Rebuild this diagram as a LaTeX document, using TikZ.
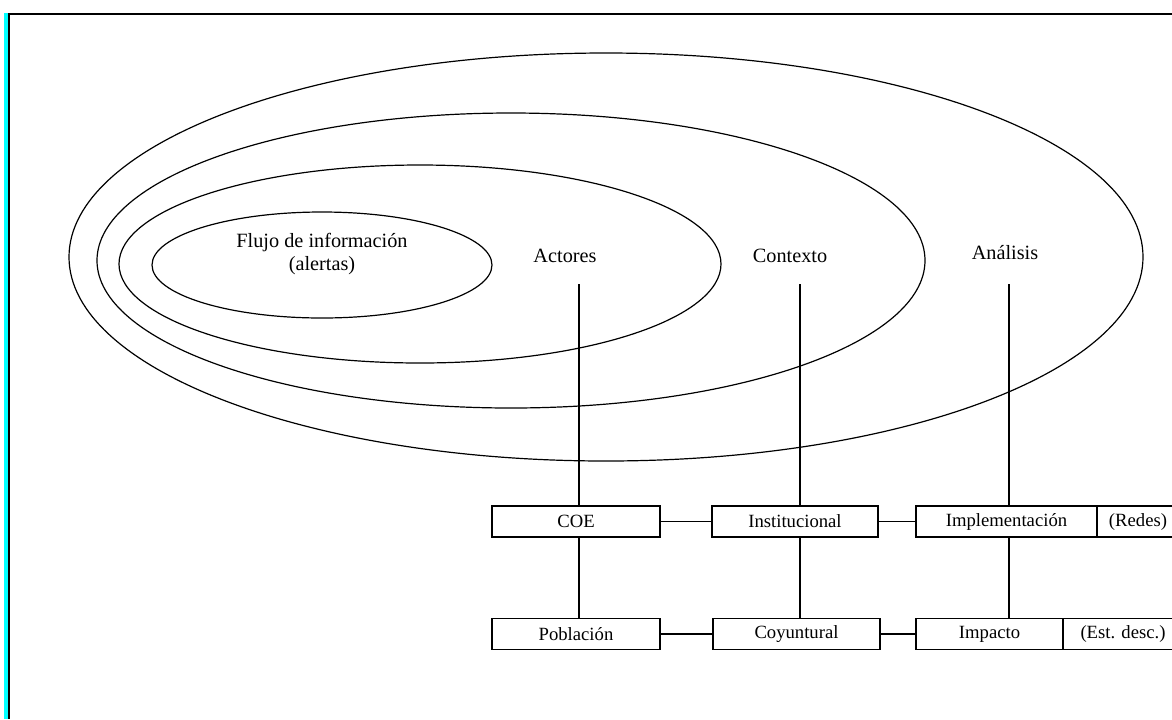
\documentclass[tikz,border=0pt]{standalone}
\usepackage{fontspec}
\setmainfont{Liberation Serif}
\definecolor{edgecyan}{RGB}{0,255,255}
\begin{document}
\begin{tikzpicture}[x=0.75pt,y=-0.75pt,
  ring/.style={draw=black,line width=0.9pt},
  lbl/.style={inner sep=0pt,font=\fontsize{15.2}{17.3}\selectfont,align=center},
  cell/.style={draw=black,line width=1pt,inner sep=0pt,minimum height=31*0.75pt,
    font=\fontsize{14}{16}\selectfont},
  link/.style={draw=black,line width=1pt}]
\useasboundingbox (0,0) rectangle (1172,719);
\clip (0,0) rectangle (1172,719);
% frame edges
\fill[edgecyan] (4,13) rectangle (8,719);
\fill[black] (8,13) rectangle (9.6,719);
\fill[black] (8,13) rectangle (1172,15);

% nested ellipses
\draw[ring] (606,257) ellipse [x radius=537, y radius=204];
\draw[ring] (511,260.5) ellipse [x radius=414, y radius=147.5];
\draw[ring] (420,264) ellipse [x radius=301, y radius=99];
\draw[ring] (322,265) ellipse [x radius=170, y radius=53];

% ring labels
\node[lbl] (flujo) at (322,254) {Flujo de información\\(alertas)};
\node[lbl] (actores) at (565,256) {Actores};
\node[lbl] (contexto) at (790,256) {Contexto};
\node[lbl] (analisis) at (1005,253) {Análisis};

% boxes
\node[cell,minimum width=168*0.75pt] (coe) at (576,521.5) {COE};
\node[cell,minimum width=166*0.75pt] (inst) at (795,521.5) {Institucional};
\node[cell,minimum width=181*0.75pt] (impl) at (1006.5,521.5) {Implementación};
\node[cell,minimum width=82*0.75pt] (redes) at (1138,521.5) {(Redes)};
\node[cell,minimum width=168*0.75pt] (pob) at (576,634) {Población};
\node[cell,minimum width=167*0.75pt] (coy) at (796.5,634) {Coyuntural};
\node[cell,minimum width=147*0.75pt] (imp) at (989.5,634) {Impacto};
\node[cell,minimum width=120*0.75pt] (est) at (1123,634) {(Est. desc.)};

% drop lines from the labels
\coordinate (xa) at (579,284);
\coordinate (xc) at (800,284);
\coordinate (xn) at (1009,284);
\draw[link] (xa) -- (xa |- coe.north);
\draw[link] (xc) -- (xc |- inst.north);
\draw[link] (xn) -- (xn |- impl.north);
\draw[link] (coe.south -| xa) -- (pob.north -| xa);
\draw[link] (inst.south -| xc) -- (coy.north -| xc);
\draw[link] (impl.south -| xn) -- (imp.north -| xn);

% horizontal links
\draw[link] (coe.east) -- (inst.west);
\draw[link] (inst.east) -- (impl.west);
\draw[link] (pob.east) -- (coy.west);
\draw[link] (coy.east) -- (imp.west);
\end{tikzpicture}
\end{document}
